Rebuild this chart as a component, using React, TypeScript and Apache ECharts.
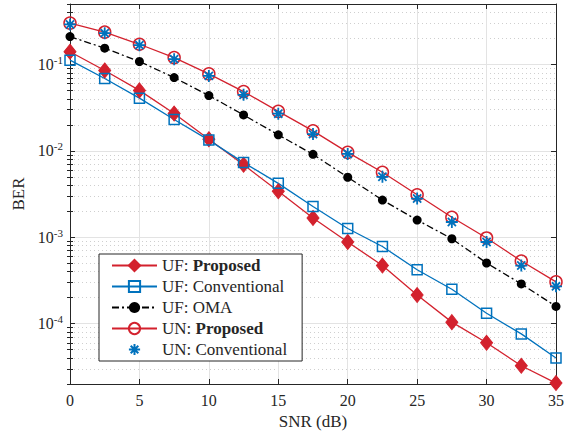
import React, { useEffect, useRef } from "react";
import * as echarts from "echarts";

const snr = [0, 2.5, 5, 7.5, 10, 12.5, 15, 17.5, 20, 22.5, 25, 27.5, 30, 32.5, 35];
const ufProposed = [0.14, 0.085, 0.05, 0.027, 0.0136, 0.0069, 0.0034, 0.00167, 0.00088, 0.00047, 0.000214, 0.000104, 0.00006, 0.0000325, 0.0000205];
const ufConventional = [0.112, 0.0686, 0.0407, 0.023, 0.0133, 0.0073, 0.0042, 0.00227, 0.00126, 0.00078, 0.00042, 0.00025, 0.000132, 0.000076, 0.00004];
const ufOMA = [0.21, 0.154, 0.108, 0.0704, 0.0436, 0.026, 0.0153, 0.0091, 0.00494, 0.00269, 0.00158, 0.00096, 0.000503, 0.000288, 0.000158];
const unProposed = [0.3, 0.236, 0.171, 0.12, 0.0776, 0.0485, 0.0286, 0.017, 0.0096, 0.00565, 0.0031, 0.0017, 0.00098, 0.00053, 0.000304];
const unConventional = [0.29, 0.23, 0.167, 0.115, 0.0736, 0.0445, 0.0269, 0.0156, 0.0092, 0.005, 0.0028, 0.0015, 0.00088, 0.00047, 0.00027];

const seriesNames = ["UF: Proposed", "UF: Conventional", "UF: OMA", "UN: Proposed", "UN: Conventional"];
const majorTicks = [1e-4, 1e-3, 1e-2, 1e-1];
const yMin = 2e-5;
const yMax = 0.5;

const minorTicks: number[] = [];
for (let e = -5; e <= -1; e++) {
  for (let k = 2; k <= 9; k++) {
    const v = k * Math.pow(10, e);
    if (v >= yMin * 0.999 && v <= yMax * 1.001) minorTicks.push(v);
  }
}

const FONT = "'Liberation Serif', 'DejaVu Serif', serif";
const AX = "#262626";
const RED = "#d3212d";
const BLUE = "#0072bd";
const GRID = "#e3e3e3";

const starPath = "path://M5,0L5,10M0,5L10,5M1.6,1.6L8.4,8.4M1.6,8.4L8.4,1.6";

export default function App() {
  const ref = useRef<HTMLDivElement>(null);
  useEffect(() => {
    if (!ref.current) return;
    const chart = echarts.init(ref.current, null, { renderer: "svg" });
    const pts = (arr: number[]) => snr.map((x, i) => [x, arr[i]]);
    const baseY = {
      type: "log" as const,
      min: yMin,
      max: yMax,
      logBase: 10,
    };
    const option: any = {
      animation: false,
      textStyle: { fontFamily: FONT },
      grid: { left: 70, right: 19, top: 4, bottom: 50, containLabel: false },
      xAxis: [
        {
          type: "value",
          min: 0,
          max: 35,
          interval: 5,
          position: "bottom",
          name: "SNR (dB)",
          nameLocation: "middle",
          nameGap: 29,
          nameTextStyle: { fontFamily: FONT, fontSize: 17, color: AX },
          axisLine: { show: true, onZero: false, lineStyle: { color: AX, width: 1 } },
          axisTick: { show: true, inside: true, length: 5, lineStyle: { color: AX } },
          axisLabel: { fontFamily: FONT, fontSize: 16, color: AX, margin: 8 },
          splitLine: { show: true, lineStyle: { color: GRID, width: 1 } },
        },
        {
          type: "value",
          min: 0,
          max: 35,
          interval: 5,
          position: "top",
          axisLine: { show: true, onZero: false, lineStyle: { color: AX, width: 1 } },
          axisTick: { show: true, inside: true, length: 5, lineStyle: { color: AX } },
          axisLabel: { show: false },
          splitLine: { show: false },
        },
      ],
      yAxis: [
        {
          ...baseY,
          position: "left",
          name: "BER",
          nameLocation: "middle",
          nameGap: 42,
          nameTextStyle: { fontFamily: FONT, fontSize: 17, color: AX },
          axisLine: { show: true, onZero: false, lineStyle: { color: AX, width: 1 } },
          axisTick: { show: true, inside: true, length: 5, customValues: majorTicks, lineStyle: { color: AX } },
          axisLabel: {
            customValues: majorTicks,
            margin: 7,
            fontFamily: FONT,
            color: AX,
            formatter: (v: number) => `{b|10}{s|${Math.round(Math.log10(v))}}`,
            rich: {
              b: { fontFamily: FONT, fontSize: 16, color: AX },
              s: { fontFamily: FONT, fontSize: 11, color: AX, padding: [0, 0, 9, 0] },
            },
          },
          splitLine: { show: true, lineStyle: { color: GRID, width: 1 } },
        },
        {
          ...baseY,
          position: "left",
          axisLine: { show: false },
          axisTick: { show: true, inside: true, length: 3, customValues: minorTicks, lineStyle: { color: AX } },
          axisLabel: { show: false },
          splitLine: { show: true, lineStyle: { color: "#cfcfcf", width: 1, type: [1, 3] } },
        },
        {
          ...baseY,
          position: "right",
          axisLine: { show: true, onZero: false, lineStyle: { color: AX, width: 1 } },
          axisTick: { show: true, inside: true, length: 5, customValues: majorTicks, lineStyle: { color: AX } },
          axisLabel: { show: false },
          splitLine: { show: false },
        },
        {
          ...baseY,
          position: "right",
          axisLine: { show: false },
          axisTick: { show: true, inside: true, length: 3, customValues: minorTicks, lineStyle: { color: AX } },
          axisLabel: { show: false },
          splitLine: { show: false },
        },
      ],
      legend: {
        left: 99,
        top: 254,
        orient: "vertical",
        data: seriesNames,
        itemWidth: 45,
        itemHeight: 14,
        itemGap: 0,
        padding: [1, 15, 1, 12],
        backgroundColor: "#fff",
        borderColor: AX,
        borderWidth: 1,
        borderRadius: 0,
        selectedMode: false,
        textStyle: {
          fontFamily: FONT,
          fontSize: 17,
          color: AX,
          lineHeight: 21,
          rich: {
            n: { fontFamily: FONT, fontSize: 17, color: AX, lineHeight: 21 },
            bd: { fontFamily: FONT, fontSize: 17, color: AX, fontWeight: "bold", lineHeight: 21 },
          },
        },
        formatter: (name: string) => {
          const idx = name.indexOf("Proposed");
          if (idx >= 0) return `{n|${name.slice(0, idx)}}{bd|Proposed}`;
          return `{n|${name}}`;
        },
      },
      series: [
        {
          name: seriesNames[0],
          type: "line",
          data: pts(ufProposed),
          clip: false,
          symbol: "diamond",
          symbolSize: [12, 15],
          lineStyle: { color: RED, width: 1.3 },
          itemStyle: { color: RED, borderColor: RED, borderWidth: 1 },
          z: 3,
        },
        {
          name: seriesNames[1],
          type: "line",
          data: pts(ufConventional),
          clip: false,
          symbol: "rect",
          symbolSize: 10,
          lineStyle: { color: BLUE, width: 1.3 },
          itemStyle: { color: "rgba(255,255,255,0)", borderColor: BLUE, borderWidth: 1.5 },
          z: 3,
        },
        {
          name: seriesNames[2],
          type: "line",
          data: pts(ufOMA),
          clip: false,
          symbol: "circle",
          symbolSize: 9,
          lineStyle: { color: "#000", width: 1.3, type: [7, 3, 2, 3] },
          itemStyle: { color: "#000", borderColor: "#000", borderWidth: 0 },
          z: 3,
        },
        {
          name: seriesNames[3],
          type: "line",
          data: pts(unProposed),
          clip: false,
          symbol: "circle",
          symbolSize: 12,
          lineStyle: { color: RED, width: 1.3 },
          itemStyle: { color: "rgba(255,255,255,0)", borderColor: RED, borderWidth: 1.5 },
          z: 3,
        },
        {
          name: seriesNames[4],
          type: "line",
          data: pts(unConventional),
          clip: false,
          symbol: starPath,
          symbolSize: 12,
          lineStyle: { color: BLUE, width: 1, opacity: 0 },
          itemStyle: { color: BLUE, borderColor: BLUE, borderWidth: 1.8 },
          z: 4,
        },
      ],
    };
    chart.setOption(option);
    return () => chart.dispose();
  }, []);
  return <div ref={ref} style={{ position: "absolute", left: 0, top: 0, width: 575, height: 435 }} />;
}
